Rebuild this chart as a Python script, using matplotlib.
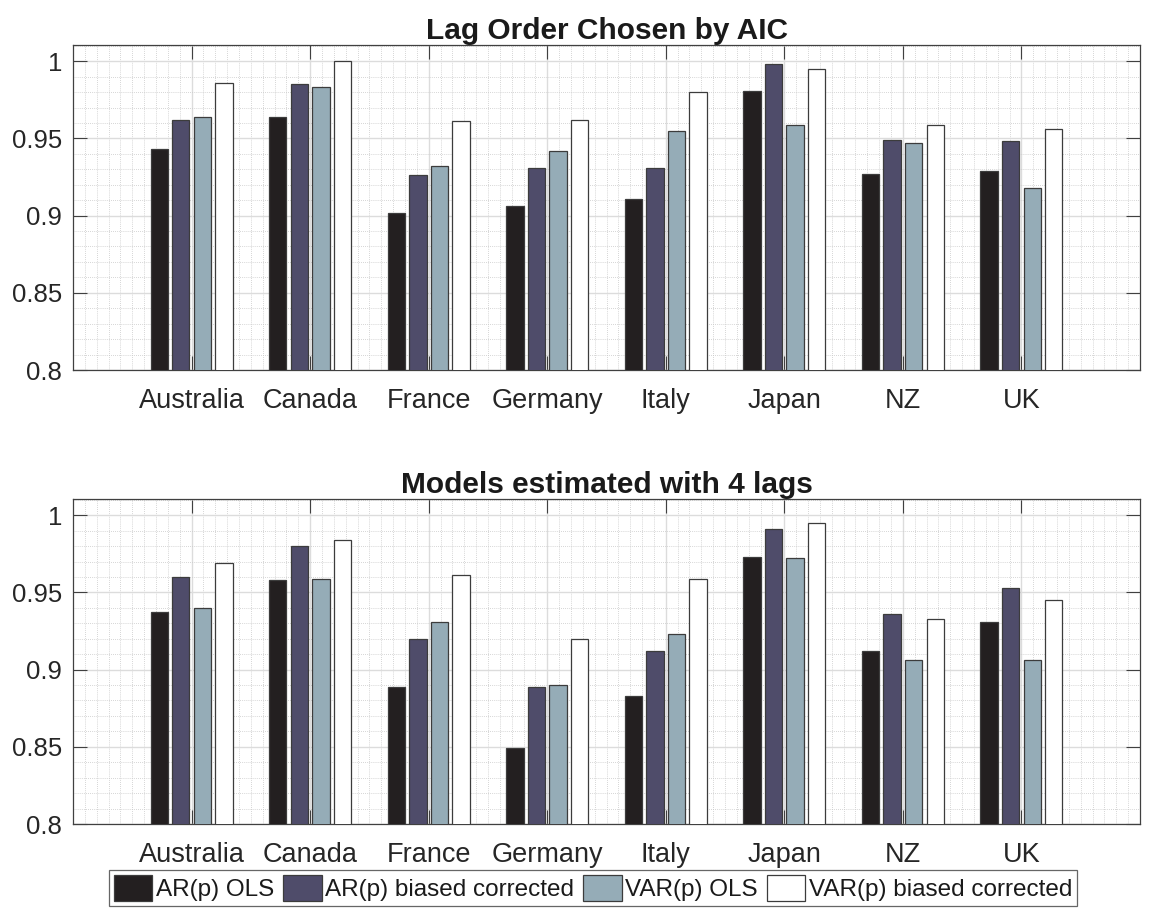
import numpy as np
import matplotlib
matplotlib.use("Agg")
import matplotlib.pyplot as plt
from matplotlib.ticker import MultipleLocator

plt.rcParams['font.family'] = ['Liberation Sans', 'DejaVu Sans']

countries = ["Australia", "Canada", "France", "Germany", "Italy", "Japan", "NZ", "UK"]
series_names = ["AR(p) OLS", "AR(p) biased corrected", "VAR(p) OLS", "VAR(p) biased corrected"]
colors = ["#231f20", "#4f4c6a", "#95acb7", "#ffffff"]

titles = ["Lag Order Chosen by AIC", "Models estimated with 4 lags"]

# Top panel: lag order chosen by AIC
aic_ar_ols = [0.943, 0.964, 0.902, 0.906, 0.911, 0.981, 0.927, 0.929]
aic_ar_bc = [0.962, 0.985, 0.926, 0.931, 0.931, 0.998, 0.949, 0.948]
aic_var_ols = [0.964, 0.983, 0.932, 0.942, 0.955, 0.959, 0.947, 0.918]
aic_var_bc = [0.986, 1.000, 0.961, 0.962, 0.980, 0.995, 0.959, 0.956]

# Bottom panel: models estimated with 4 lags
lag4_ar_ols = [0.937, 0.958, 0.889, 0.849, 0.883, 0.973, 0.912, 0.931]
lag4_ar_bc = [0.960, 0.980, 0.920, 0.889, 0.912, 0.991, 0.936, 0.953]
lag4_var_ols = [0.940, 0.959, 0.931, 0.890, 0.923, 0.972, 0.906, 0.906]
lag4_var_bc = [0.969, 0.984, 0.961, 0.920, 0.959, 0.995, 0.933, 0.945]

panels = [
    [aic_ar_ols, aic_ar_bc, aic_var_ols, aic_var_bc],
    [lag4_ar_ols, lag4_ar_bc, lag4_var_ols, lag4_var_bc],
]

W, H = 1150, 909
fig = plt.figure(figsize=(W / 100, H / 100), dpi=100)

ax_rects = [
    (73 / W, 1 - 370 / H, (1140 - 73) / W, (370 - 45) / H),
    (73 / W, 1 - 824 / H, (1140 - 73) / W, (824 - 499) / H),
]

x = np.arange(1, len(countries) + 1)
nser = 4
group_w = min(0.8, nser / (nser + 1.5))
step = group_w / nser
bar_w = 0.8 * step

handles = None
for rect, data, title in zip(ax_rects, panels, titles):
    ax = fig.add_axes(rect)
    ax.set_axisbelow(True)
    hs = []
    for i, (vals, c) in enumerate(zip(data, colors)):
        offs = (i - (nser - 1) / 2) * step
        b = ax.bar(x + offs, vals, width=bar_w, color=c, edgecolor="#3c3c3c",
                   linewidth=0.9, label=series_names[i], zorder=3)
        hs.append(b)
    handles = hs
    ax.set_xlim(0, 9)
    ax.set_ylim(0.8, 1.0105)
    ax.set_xticks(x)
    ax.set_xticklabels(countries)
    ax.set_yticks([0.8, 0.85, 0.9, 0.95, 1.0])
    ax.set_yticklabels(["0.8", "0.85", "0.9", "0.95", "1"])
    ax.xaxis.set_minor_locator(MultipleLocator(0.1))
    ax.yaxis.set_minor_locator(MultipleLocator(0.01))
    ax.grid(True, which="major", color="#dcdcdc", linewidth=1.0, linestyle="-")
    ax.grid(True, which="minor", color="#c8c8c8", linewidth=0.6, linestyle=(0, (1, 1.5)))
    ax.tick_params(which="major", direction="in", length=10, width=0.8, color="#404040",
                   labelcolor="#262626", top=True, right=True)
    ax.tick_params(axis="y", labelsize=18.5, pad=8)
    ax.tick_params(axis="x", labelsize=19.5, pad=13)
    ax.tick_params(which="minor", length=0)
    for s in ax.spines.values():
        s.set_color("#404040")
        s.set_linewidth(0.9)
    ax.set_title(title, fontsize=21.5, fontweight="bold", color="#1a1a1a", pad=4)

leg = fig.legend(handles, series_names, loc="center", ncol=4,
                 bbox_to_anchor=(593 / W, 1 - 888 / H), fontsize=17.5,
                 frameon=True, fancybox=False, edgecolor="#404040",
                 handlelength=1.6, handleheight=1.3, handletextpad=0.15,
                 columnspacing=0.35, borderpad=0.2, borderaxespad=0)
leg.get_frame().set_linewidth(0.9)
for t in leg.get_texts():
    t.set_color("#1a1a1a")

fig.savefig("out.png", dpi=100)
